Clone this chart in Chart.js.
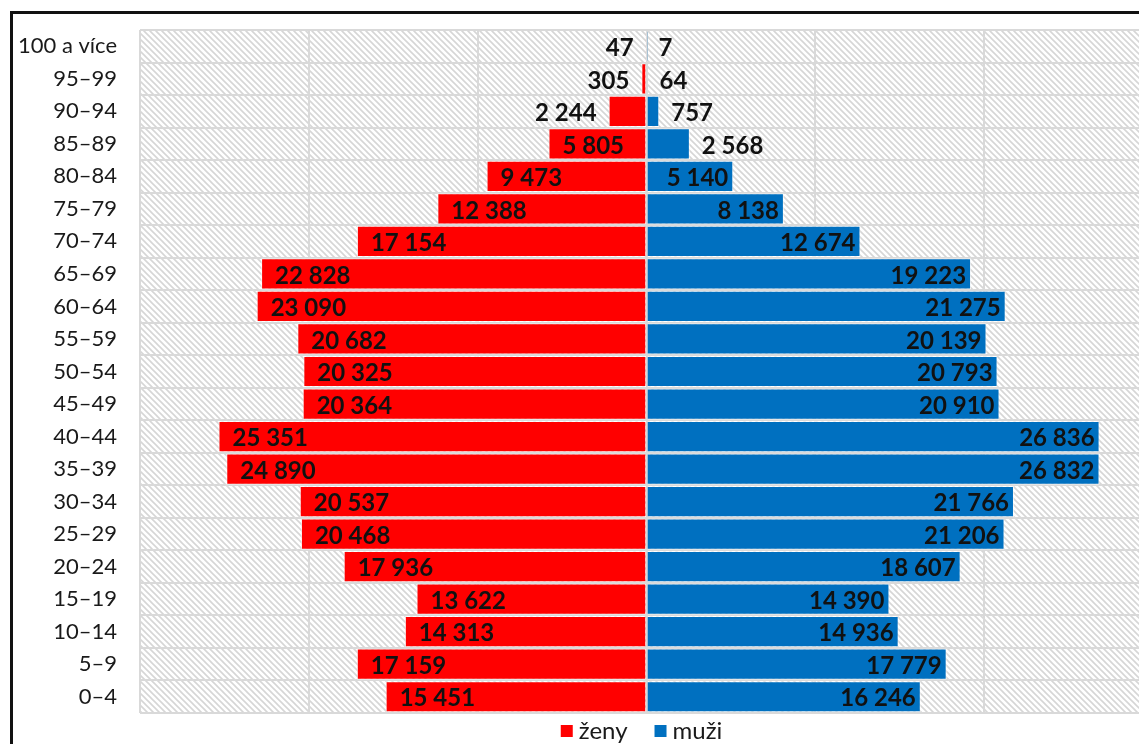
<!DOCTYPE html>
<html>
<head>
<meta charset="utf-8">
<script src="https://cdn.jsdelivr.net/npm/chart.js@4/dist/chart.umd.min.js"></script>
<style>
  html, body { margin: 0; padding: 0; background: #fff; overflow: hidden; width: 1139px; height: 744px; }
  #frame { position: absolute; left: 10px; top: 11px; width: 1200px; height: 800px; border: 3px solid #111; }
  #wrap { position: absolute; left: 13px; top: 14px; width: 1150px; height: 730px; }
</style>
</head>
<body>
<div id="frame"></div>
<div id="wrap"><canvas id="myChart"></canvas></div>
<script>
// age groups, top to bottom
const ageGroups = ["100 a více", "95–99", "90–94", "85–89", "80–84", "75–79", "70–74", "65–69", "60–64", "55–59",
  "50–54", "45–49", "40–44", "35–39", "30–34", "25–29", "20–24", "15–19", "10–14", "5–9", "0–4"];
const zeny = [47, 305, 2244, 5805, 9473, 12388, 17154, 22828, 23090, 20682,
  20325, 20364, 25351, 24890, 20537, 20468, 17936, 13622, 14313, 17159, 15451];
const muzi = [7, 64, 757, 2568, 5140, 8138, 12674, 19223, 21275, 20139,
  20793, 20910, 26836, 26832, 21766, 21206, 18607, 14390, 14936, 17779, 16246];
const axisMin = -30000;
const axisMax = 30000;
const axisStep = 10000;

function fmt(v) {
  return String(Math.abs(v)).replace(/\B(?=(\d{3})+(?!\d))/g, " ");
}

// hatched plot background
function makeHatch() {
  const c = document.createElement("canvas");
  c.width = 6;
  c.height = 6;
  const g = c.getContext("2d");
  g.fillStyle = "#ffffff";
  g.fillRect(0, 0, 6, 6);
  g.strokeStyle = "#d6d6d6";
  g.lineWidth = 1.6;
  g.beginPath();
  g.moveTo(-1, -1); g.lineTo(7, 7);
  g.moveTo(-4, 2); g.lineTo(2, 8);
  g.moveTo(2, -4); g.lineTo(8, 2);
  g.stroke();
  return g.createPattern(c, "repeat");
}

const hatchBg = {
  id: "hatchBg",
  beforeDraw(chart) {
    const a = chart.chartArea;
    const ctx = chart.ctx;
    ctx.save();
    ctx.fillStyle = makeHatch();
    ctx.fillRect(a.left, a.top, a.right - a.left, a.bottom - a.top);
    ctx.restore();
  },
};

const barLabels = {
  id: "barLabels",
  afterDatasetsDraw(chart) {
    const ctx = chart.ctx;
    ctx.save();
    ctx.font = "bold 24px Lato";
    ctx.fillStyle = "#111";
    ctx.textBaseline = "middle";
    chart.data.datasets.forEach((ds, di) => {
      const meta = chart.getDatasetMeta(di);
      meta.data.forEach((bar, i) => {
        const txt = fmt(ds.data[i]);
        const tw = ctx.measureText(txt).width;
        const len = Math.abs(bar.x - bar.base);
        const y = bar.y + 2;
        if (di === 0) {
          if (len > tw + 20) {
            ctx.textAlign = "left";
            ctx.fillText(txt, bar.x + 14, y);
          } else {
            ctx.textAlign = "right";
            ctx.fillText(txt, bar.x - 12, y);
          }
        } else {
          if (len > tw + 10) {
            ctx.textAlign = "right";
            ctx.fillText(txt, bar.x - 5, y);
          } else {
            ctx.textAlign = "left";
            ctx.fillText(txt, bar.x + 12, y);
          }
        }
      });
    });
    ctx.restore();
  },
};

// legend under the plot, centred on the zero line
const bottomLegend = {
  id: "bottomLegend",
  afterDraw(chart) {
    const ctx = chart.ctx;
    ctx.save();
    ctx.font = "24px Lato";
    ctx.textBaseline = "middle";
    ctx.textAlign = "left";
    const items = chart.data.datasets.map((ds) => ({
      text: ds.label,
      color: ds.backgroundColor,
      w: ctx.measureText(ds.label).width,
    }));
    const total = items.reduce((s, it) => s + 18 + it.w, 0) + 27 * (items.length - 1);
    let x = chart.scales.x.getPixelForValue(0) - 5 - total / 2;
    const y = chart.chartArea.bottom + 18;
    items.forEach((it) => {
      ctx.fillStyle = it.color;
      ctx.fillRect(x, y - 6, 12, 12);
      ctx.fillStyle = "#1a1a1a";
      ctx.fillText(it.text, x + 18, y);
      x += 18 + it.w + 27;
    });
    ctx.restore();
  },
};

const ctx = document.getElementById("myChart").getContext("2d");
window.chart = new Chart(ctx, {
  type: "bar",
  data: {
    labels: ageGroups,
    datasets: [
      {
        label: "ženy",
        data: zeny.map((v) => -v),
        backgroundColor: "#ff0000",
        borderColor: "rgba(255,255,255,0.6)",
        borderWidth: 1,
      },
      {
        label: "muži",
        data: muzi,
        backgroundColor: "#0070c0",
        borderColor: "rgba(255,255,255,0.6)",
        borderWidth: 1,
      },
    ],
  },
  options: {
    indexAxis: "y",
    responsive: true,
    maintainAspectRatio: false,
    animation: false,
    layout: { padding: { top: 16, right: 10, left: 0, bottom: 31 } },
    datasets: { bar: { barPercentage: 0.96, categoryPercentage: 1.0 } },
    scales: {
      x: {
        stacked: true,
        min: axisMin,
        max: axisMax,
        ticks: { display: false, stepSize: axisStep },
        grid: { color: "#d9d9d9", lineWidth: 2, drawTicks: false },
        border: { display: false },
      },
      y: {
        stacked: true,
        afterFit(scale) {
          scale.width = 127;
          scale.paddingTop = 0;
          scale.paddingBottom = 0;
        },
        ticks: { font: { family: "Lato", size: 22 }, color: "#1a1a1a", padding: 23 },
        grid: { color: "#d9d9d9", lineWidth: 2, drawTicks: false, offset: true },
        border: { display: false },
      },
    },
    plugins: {
      legend: { display: false },
      tooltip: { enabled: false },
    },
  },
  plugins: [hatchBg, barLabels, bottomLegend],
});
</script>
</body>
</html>
